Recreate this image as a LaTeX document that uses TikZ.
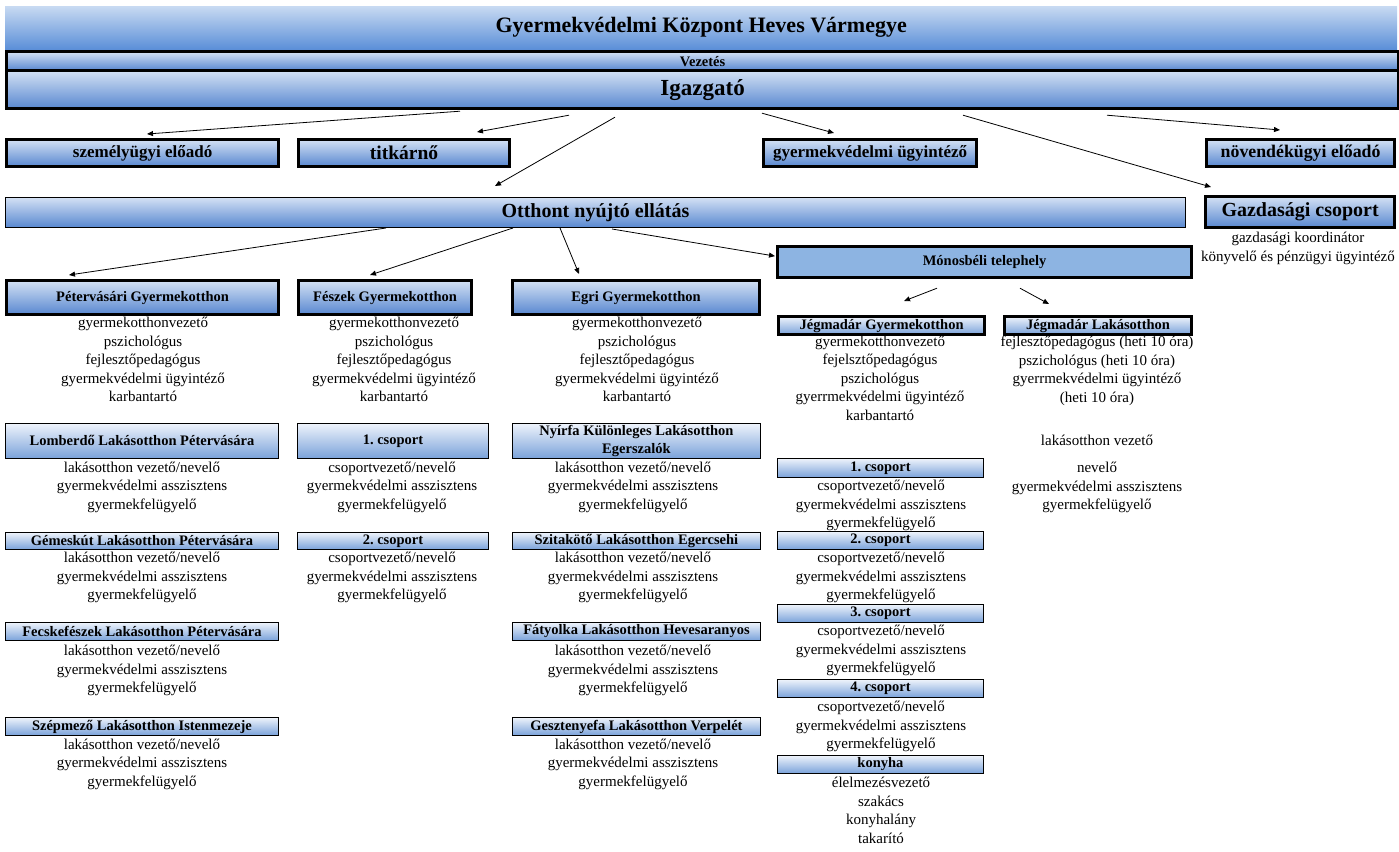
\documentclass[tikz,border=0pt]{standalone}
\usepackage{fontspec}
\setmainfont{Liberation Serif}
\usetikzlibrary{arrows.meta}
\definecolor{ttop}{HTML}{C8DAF2}
\definecolor{tbot}{HTML}{5B8FD8}
\definecolor{gtop}{HTML}{D3E1F4}
\definecolor{gbot}{HTML}{5887D0}
\definecolor{ltop}{HTML}{EEF3FB}
\definecolor{lbot}{HTML}{7AA2DA}
\definecolor{monfill}{HTML}{8DB4E2}
\newcommand\bx[7]{\node[#6, anchor=north west, minimum width=#4pt-#2pt, minimum height=#5pt-#3pt] (#1) at (#2,#3) {#7};}
\newcommand\staff[4]{\foreach \t [count=\i] in {#4}{\node[stf] (#1-\i) at (#2,{#3+4.5+(\i-1)*18.5}) {\t};}}
\frenchspacing
\begin{document}
\begin{tikzpicture}[x=1pt,y=-1pt,
  titlebox/.style={inner sep=0, top color=ttop, bottom color=tbot, font=\bfseries\fontsize{22}{24}\selectfont},
  gbox/.style={draw=black, line width=3.2pt, inner sep=0, top color=gtop, bottom color=gbot, font=\bfseries\fontsize{17}{20}\selectfont},
  obox/.style={draw=black, line width=1pt, inner sep=0, top color=gtop, bottom color=gbot, font=\bfseries\fontsize{20}{22}\selectfont},
  lbox/.style={draw=black, line width=0.9pt, inner sep=0, top color=ltop, bottom color=lbot, font=\bfseries\fontsize{14.5}{18}\selectfont},
  hbox/.style={draw=black, line width=3.2pt, inner sep=0, top color=ltop, bottom color=lbot, font=\bfseries\fontsize{14.5}{18}\selectfont},
  monbox/.style={draw=black, line width=3.2pt, inner sep=0, fill=monfill, font=\bfseries\fontsize{14.5}{18}\selectfont},
  stf/.style={anchor=base, inner sep=0, font=\fontsize{15}{18}\selectfont},
  arr/.style={-{Triangle[length=6pt,width=5pt]}, line width=0.8pt}
]
\useasboundingbox (0,0) rectangle (1399,851);
\fill[white] (0,0) rectangle (1399,851);
% header
\bx{title}{5}{6}{1397}{49}{titlebox}{Gyermekvédelmi Központ Heves Vármegye}
\bx{vez}{5}{50}{1397}{69}{gbox, font=\bfseries\fontsize{14.5}{16}\selectfont}{Vezetés}
\bx{igaz}{5}{69}{1397}{107}{gbox, font=\bfseries\fontsize{23}{25}\selectfont}{Igazgató}
% second row
\bx{szem}{5}{138}{277}{165}{gbox}{személyügyi előadó}
\bx{titk}{297}{138}{508}{165}{gbox, font=\bfseries\fontsize{19.5}{22}\selectfont}{titkárnő}
\bx{gyv}{762}{138}{975}{165}{gbox}{gyermekvédelmi ügyintéző}
\bx{nov}{1205}{138}{1393}{165}{gbox, font=\bfseries\fontsize{17.8}{20}\selectfont}{növendékügyi előadó}
% third row
\bx{ott}{5}{197}{1185}{227}{obox}{Otthont nyújtó ellátás}
\bx{gaz}{1204}{195}{1393}{226}{gbox, font=\bfseries\fontsize{20}{22}\selectfont}{Gazdasági csoport}
\staff{gazs}{1298}{238}{gazdasági koordinátor, könyvelő és pénzügyi ügyintéző}
% arrows from Igazgató
\draw[arr] ([xshift=455pt,yshift=-1pt]igaz.south west) -- ([xshift=142pt,yshift=4pt]szem.north west);
\draw[arr] ([xshift=564pt,yshift=-5pt]igaz.south west) -- ([xshift=180pt,yshift=6pt]titk.north west);
\draw[arr] ([xshift=610pt,yshift=-7pt]igaz.south west) -- ([xshift=490pt,yshift=11pt]ott.north west);
\draw[arr] ([xshift=757pt,yshift=-3pt]igaz.south west) -- ([xshift=72pt,yshift=5pt]gyv.north west);
\draw[arr] ([xshift=958pt,yshift=-5pt]igaz.south west) -- ([xshift=7pt,yshift=8pt]gaz.north west);
\draw[arr] ([xshift=1102pt,yshift=-5pt]igaz.south west) -- ([xshift=75pt,yshift=8pt]nov.north west);
% fourth row
\bx{mon}{776}{245}{1190}{276}{monbox}{Mónosbéli telephely}
\bx{pet}{5}{279}{277}{313}{gbox, font=\bfseries\fontsize{14.5}{18}\selectfont}{Pétervásári Gyermekotthon}
\bx{fesz}{297}{279}{470}{313}{gbox, font=\bfseries\fontsize{14.5}{18}\selectfont}{Fészek Gyermekotthon}
\bx{egri}{511}{279}{758}{313}{gbox, font=\bfseries\fontsize{14.5}{18}\selectfont}{Egri Gyermekotthon}
\draw[arr] ([xshift=381pt]ott.south west) -- ([xshift=64pt,yshift=4pt]pet.north west);
\draw[arr] ([xshift=508pt]ott.south west) -- ([xshift=73pt,yshift=4pt]fesz.north west);
\draw[arr] ([xshift=555pt]ott.south west) -- ([xshift=68pt,yshift=5pt]egri.north west);
\draw[arr] ([xshift=607pt,yshift=-1pt]ott.south west) -- ([xshift=-1pt,yshift=6pt]mon.west);
\staff{pets}{143}{323}{gyermekotthonvezető, pszichológus, fejlesztőpedagógus, gyermekvédelmi ügyintéző, karbantartó}
\staff{feszs}{394}{323}{gyermekotthonvezető, pszichológus, fejlesztőpedagógus, gyermekvédelmi ügyintéző, karbantartó}
\staff{egris}{637}{323}{gyermekotthonvezető, pszichológus, fejlesztőpedagógus, gyermekvédelmi ügyintéző, karbantartó}
% Mónosbéli
\bx{jgy}{777}{315}{983}{333}{hbox}{Jégmadár Gyermekotthon}
\bx{jla}{1003}{315}{1190}{333}{hbox}{Jégmadár Lakásotthon}
\draw[arr] ([xshift=161pt,yshift=-9pt]mon.south west) -- ([xshift=127pt,yshift=14pt]jgy.north west);
\draw[arr] ([xshift=244pt,yshift=-9pt]mon.south west) -- ([xshift=46pt,yshift=11pt]jla.north west);
\staff{jgys}{880}{341.5}{gyermekotthonvezető, fejelsztőpedagógus, pszichológus, gyerrmekvédelmi ügyintéző, karbantartó}
\staff{jlas}{1097}{342}{fejlesztőpedagógus (heti 10 óra), pszichológus (heti 10 óra), gyerrmekvédelmi ügyintéző, {(heti 10 óra)}}
\staff{jlav}{1097}{441}{lakásotthon vezető}
\staff{jlan}{1097}{468}{nevelő, gyermekvédelmi asszisztens, gyermekfelügyelő}
% Pétervásári column
\bx{lomb}{5}{423}{278}{458}{lbox}{Lomberdő Lakásotthon Pétervására}
\staff{lombs}{142}{467.5}{lakásotthon vezető/nevelő, gyermekvédelmi asszisztens, gyermekfelügyelő}
\bx{gem}{5}{532}{278}{549}{lbox}{Gémeskút Lakásotthon Pétervására}
\staff{gems}{142}{558}{lakásotthon vezető/nevelő, gyermekvédelmi asszisztens, gyermekfelügyelő}
\bx{fecs}{5}{622}{278}{640}{lbox}{Fecskefészek Lakásotthon Pétervására}
\staff{fecss}{142}{651}{lakásotthon vezető/nevelő, gyermekvédelmi asszisztens, gyermekfelügyelő}
\bx{szep}{5}{717}{278}{735}{lbox}{Szépmező Lakásotthon Istenmezeje}
\staff{szeps}{142}{744.5}{lakásotthon vezető/nevelő, gyermekvédelmi asszisztens, gyermekfelügyelő}
% Fészek column
\bx{fcs1}{297}{423}{488}{458}{lbox}{1. csoport}
\staff{fcs1s}{392}{467.5}{csoportvezető/nevelő, gyermekvédelmi asszisztens, gyermekfelügyelő}
\bx{fcs2}{297}{532}{488}{549}{lbox}{2. csoport}
\staff{fcs2s}{392}{558}{csoportvezető/nevelő, gyermekvédelmi asszisztens, gyermekfelügyelő}
% Egri column
\bx{nyir}{512}{423}{760}{458}{lbox, align=center}{Nyírfa Különleges Lakásotthon\\Egerszalók}
\staff{nyirs}{633}{467.5}{lakásotthon vezető/nevelő, gyermekvédelmi asszisztens, gyermekfelügyelő}
\bx{szit}{512}{532}{760}{549}{lbox}{Szitakötő Lakásotthon Egercsehi}
\staff{szits}{633}{558}{lakásotthon vezető/nevelő, gyermekvédelmi asszisztens, gyermekfelügyelő}
\bx{faty}{512}{622}{760}{640}{lbox}{Fátyolka Lakásotthon Hevesaranyos}
\staff{fatys}{633}{651}{lakásotthon vezető/nevelő, gyermekvédelmi asszisztens, gyermekfelügyelő}
\bx{geszt}{512}{717}{760}{735}{lbox}{Gesztenyefa Lakásotthon Verpelét}
\staff{geszts}{633}{744.5}{lakásotthon vezető/nevelő, gyermekvédelmi asszisztens, gyermekfelügyelő}
% Mónosbéli groups
\bx{m1}{777}{458}{983}{477}{lbox}{1. csoport}
\staff{m1s}{881}{486}{csoportvezető/nevelő, gyermekvédelmi asszisztens, gyermekfelügyelő}
\bx{m2}{777}{531}{983}{549}{lbox}{2. csoport}
\staff{m2s}{881}{558}{csoportvezető/nevelő, gyermekvédelmi asszisztens, gyermekfelügyelő}
\bx{m3}{777}{604}{983}{622}{lbox}{3. csoport}
\staff{m3s}{881}{631}{csoportvezető/nevelő, gyermekvédelmi asszisztens, gyermekfelügyelő}
\bx{m4}{777}{679}{983}{697}{lbox}{4. csoport}
\staff{m4s}{881}{707}{csoportvezető/nevelő, gyermekvédelmi asszisztens, gyermekfelügyelő}
\bx{kony}{777}{755}{983}{773}{lbox}{konyha}
\staff{konys}{881}{783}{élelmezésvezető, szakács, konyhalány, takarító}
\end{tikzpicture}
\end{document}
